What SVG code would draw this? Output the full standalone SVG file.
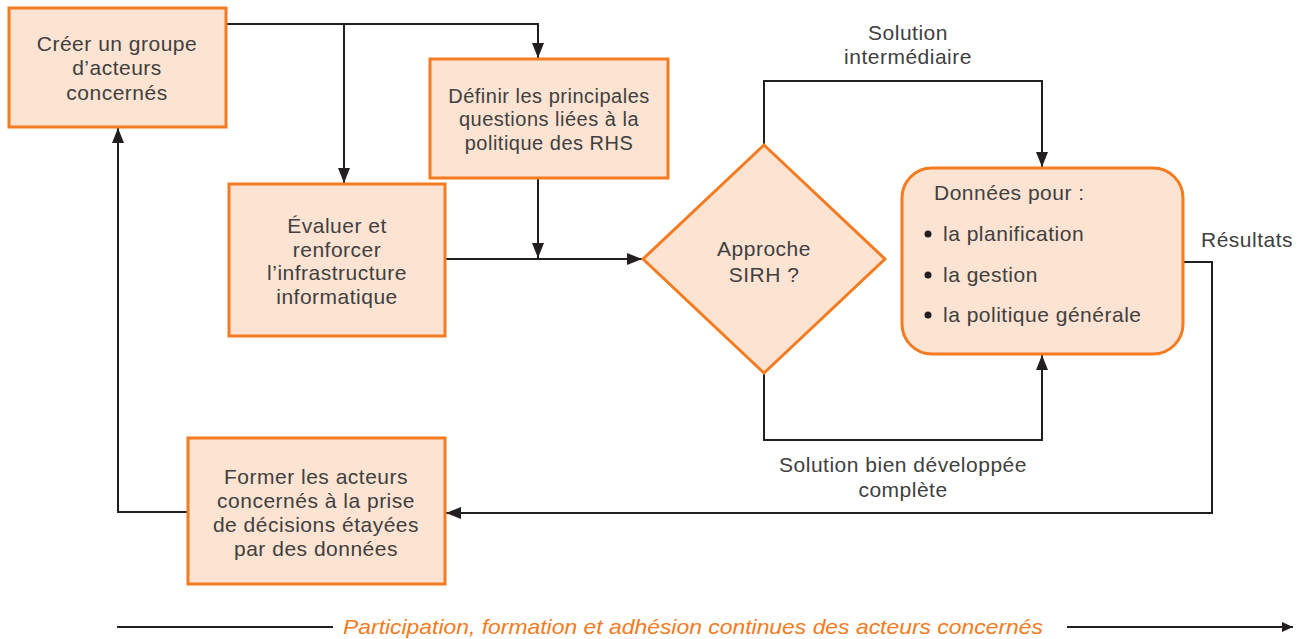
<svg xmlns="http://www.w3.org/2000/svg" width="1305" height="639" viewBox="0 0 1305 639">
  <style>
    .box { fill: #FDE3D2; stroke: #F47B20; stroke-width: 3; }
    .lbl { font-family: "Liberation Sans", Arial, sans-serif; font-size: 21px; letter-spacing: 0.5px; fill: #404040; text-anchor: middle; }
    .left { text-anchor: start; }
    .wire { fill: none; stroke: #231F20; stroke-width: 2; }
    .foot { font-family: "Liberation Sans", Arial, sans-serif; font-style: italic; font-size: 21px; fill: #F47B20; text-anchor: middle; }
  </style>
  <defs>
    <marker id="arrow" viewBox="0 0 15 12" refX="15" refY="6" markerWidth="15" markerHeight="12" markerUnits="userSpaceOnUse" orient="auto">
      <path d="M0,0 L15,6 L0,12 Z" fill="#231F20"/>
    </marker>
    <marker id="arrow-small" viewBox="0 0 11 10" refX="11" refY="5" markerWidth="11" markerHeight="10" markerUnits="userSpaceOnUse" orient="auto">
      <path d="M0,0 L11,5 L0,10 Z" fill="#231F20"/>
    </marker>
  </defs>

  <!-- connectors -->
  <g id="connectors">
    <path class="wire" d="M226,24 H538 V58" marker-end="url(#arrow)"/>
    <path class="wire" d="M344,24 V183" marker-end="url(#arrow)"/>
    <path class="wire" d="M538,178 V258" marker-end="url(#arrow)"/>
    <path class="wire" d="M445,259 H642" marker-end="url(#arrow)"/>
    <path class="wire" d="M764,145 V81 H1042 V167" marker-end="url(#arrow)"/>
    <path class="wire" d="M764,374 V440 H1042 V355" marker-end="url(#arrow)"/>
    <path class="wire" d="M1184,262 H1212 V513 H446" marker-end="url(#arrow)"/>
    <path class="wire" d="M188,512 H118 V128" marker-end="url(#arrow)"/>
    <path class="wire" d="M117,627 H333"/>
    <path class="wire" d="M1067,627 H1293" marker-end="url(#arrow-small)"/>
  </g>

  <g id="n-creer">
    <rect class="box" x="9" y="8" width="217" height="119"/>
    <text class="lbl"><tspan x="117" y="51">Créer un groupe</tspan><tspan x="117" y="75">d’acteurs</tspan><tspan x="117" y="100">concernés</tspan></text>
  </g>

  <g id="n-definir">
    <rect class="box" x="430" y="59" width="238" height="119"/>
    <text class="lbl" style="font-size:20px"><tspan x="549" y="103">Définir les principales</tspan><tspan x="549" y="126">questions liées à la</tspan><tspan x="549" y="150">politique des RHS</tspan></text>
  </g>

  <g id="n-evaluer">
    <rect class="box" x="229" y="184" width="216" height="152"/>
    <text class="lbl"><tspan x="337" y="233">Évaluer et</tspan><tspan x="337" y="257">renforcer</tspan><tspan x="337" y="280">l’infrastructure</tspan><tspan x="337" y="304">informatique</tspan></text>
  </g>

  <g id="n-approche">
    <polygon class="box" points="764,145 885,259 764,373 643,259"/>
    <text class="lbl"><tspan x="764" y="256">Approche</tspan><tspan x="764" y="282">SIRH ?</tspan></text>
  </g>

  <g id="n-donnees">
    <rect class="box" x="902" y="168" width="281" height="186" rx="30" ry="30"/>
    <text class="lbl left" x="934" y="200">Données pour :</text>
    <circle cx="928" cy="234" r="3.5" fill="#231F20"/>
    <text class="lbl left" x="943" y="241">la planification</text>
    <circle cx="928" cy="275" r="3.5" fill="#231F20"/>
    <text class="lbl left" x="943" y="282">la gestion</text>
    <circle cx="928" cy="315" r="3.5" fill="#231F20"/>
    <text class="lbl left" x="943" y="322">la politique générale</text>
  </g>

  <g id="n-former">
    <rect class="box" x="188" y="438" width="257" height="146"/>
    <text class="lbl"><tspan x="316" y="484">Former les acteurs</tspan><tspan x="316" y="508">concernés à la prise</tspan><tspan x="316" y="532">de décisions étayées</tspan><tspan x="316" y="556">par des données</tspan></text>
  </g>

  <!-- edge labels -->
  <g id="labels">
    <text class="lbl"><tspan x="908" y="40">Solution</tspan><tspan x="908" y="64">intermédiaire</tspan></text>
    <text class="lbl"><tspan x="903" y="472">Solution bien développée</tspan><tspan x="903" y="497">complète</tspan></text>
    <text class="lbl left" x="1201" y="247">Résultats</text>
    <text class="foot" x="693" y="634" textLength="700" lengthAdjust="spacingAndGlyphs">Participation, formation et adhésion continues des acteurs concernés</text>
  </g>
</svg>
